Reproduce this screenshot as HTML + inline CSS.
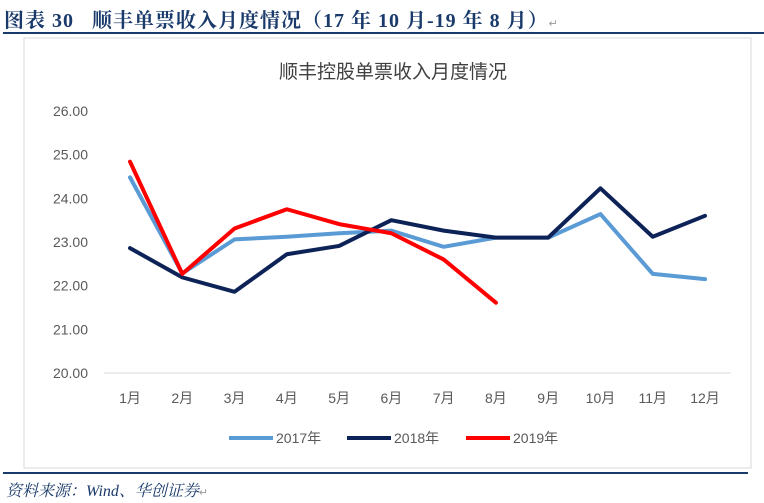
<!DOCTYPE html>
<html><head><meta charset="utf-8"><style>
body{margin:0;width:764px;height:503px;background:#fff;overflow:hidden;position:relative;font-family:"Liberation Sans","Noto Sans CJK SC",sans-serif}
.hdr{position:absolute;left:4px;top:4px;font-family:"Liberation Serif","Noto Serif CJK SC",serif;font-weight:bold;font-size:20px;color:#1a3a6b;letter-spacing:1px;white-space:nowrap}
.rule1{position:absolute;left:3px;top:32px;width:761px;height:2px;background:#1a3a6b}
.rule2{position:absolute;left:3px;top:472px;width:745px;height:2px;background:#1a3a6b}
.src{position:absolute;left:6px;top:478px;font-family:"Liberation Serif","Noto Serif CJK SC",serif;font-style:italic;font-size:16px;color:#1a3a6b}
</style></head><body>
<div class="hdr">图表 30&nbsp;&nbsp;&nbsp;顺丰单票收入月度情况（17 年 10 月-19 年 8 月）<span style="color:#999;font-size:11px;font-weight:normal">↵</span></div>
<div class="rule1"></div>
<svg width="764" height="503" style="position:absolute;left:0;top:0" id="chart">
<rect x="24" y="38" width="727" height="430" fill="#fff" stroke="#d9d9d9"/>
<text x="393" y="78" text-anchor="middle" font-size="19" fill="#404040">顺丰控股单票收入月度情况</text>
<g id="plot"></g>
</svg>
<div class="rule2"></div>
<div class="src">资料来源：Wind、华创证券<span style="color:#999;font-size:11px;font-style:normal">↵</span></div>
<script>
const categories=["1月","2月","3月","4月","5月","6月","7月","8月","9月","10月","11月","12月"];
const yTicks=[20,21,22,23,24,25,26];
const s2017=[24.48,22.28,23.06,23.12,23.2,23.26,22.89,23.1,23.1,23.64,22.27,22.15];
const s2018=[22.86,22.19,21.86,22.72,22.91,23.5,23.26,23.1,23.1,24.23,23.12,23.6];
const s2019=[24.84,22.27,23.31,23.75,23.41,23.2,22.6,21.61];
const seriesNames=["2017年","2018年","2019年"];
const colors=["#5b9bd5","#0d2357","#ff0000"];
const NS="http://www.w3.org/2000/svg";
const g=document.getElementById('plot');
const x=i=>130+i*(705-130)/11;
const y=v=>373-(v-20)*(373-111)/6;
function mk(t,a){const e=document.createElementNS(NS,t);for(const k in a)e.setAttribute(k,a[k]);g.appendChild(e);return e;}
const ax=mk('line',{x1:104,x2:731,y1:y(20),y2:y(20),stroke:'#d9d9d9'});


yTicks.forEach(v=>{const t=mk('text',{x:88,y:y(v)+5,'text-anchor':'end','font-size':14,fill:'#595959'});t.textContent=v.toFixed(2);

});
categories.forEach((c,i)=>{const t=mk('text',{x:x(i),y:403,'text-anchor':'middle','font-size':14,fill:'#595959'});t.textContent=c;

});
[s2017,s2018,s2019].forEach((s,k)=>{const p=mk('polyline',{points:s.map((v,i)=>x(i)+','+y(v)).join(' '),fill:'none',stroke:colors[k],'stroke-width':4,'stroke-linejoin':'round','stroke-linecap':'round'});


const lx=[229,347,466][k];
const l=mk('line',{x1:lx,x2:lx+44,y1:438,y2:438,stroke:colors[k],'stroke-width':4});


const t=mk('text',{x:lx+47,y:443,'font-size':14,fill:'#595959'});t.textContent=seriesNames[k];

});
</script>
</body></html>
